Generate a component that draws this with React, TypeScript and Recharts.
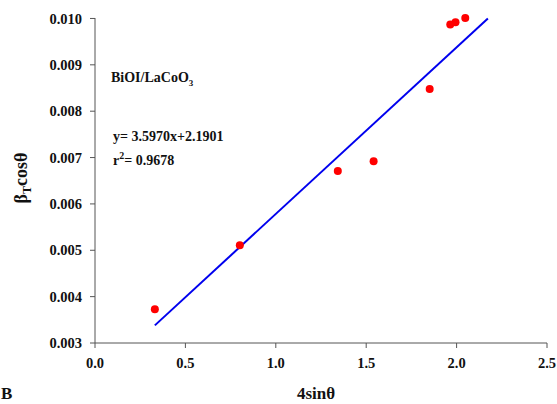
import React from "react"
import { ScatterChart, Scatter, XAxis, YAxis } from "recharts"

// measured points: 4sinθ vs βT·cosθ
const xValues = [0.331, 0.801, 1.343, 1.541, 1.851, 1.965, 1.994, 2.048]
const yValues = [0.00373, 0.00511, 0.00671, 0.00692, 0.00848, 0.00987, 0.00992, 0.01001]

// endpoints of the fitted line
const fitX = [0.331, 2.173]
const fitY = [0.00338, 0.01]

const xTicks = [0, 0.5, 1, 1.5, 2, 2.5]
const yTicks = [0.003, 0.004, 0.005, 0.006, 0.007, 0.008, 0.009, 0.01]

const points = xValues.map((x, i) => ({ x, y: yValues[i] }))
const fit = fitX.map((x, i) => ({ x, y: fitY[i] }))

const FONT = "'Liberation Serif', 'Times New Roman', serif"
const AXIS = "#555"

const tickStyle = { fill: "#111", fontSize: 14.5, fontWeight: 700, fontFamily: FONT }

export default function App() {
  return (
    <div style={{ position: "absolute", left: 0, top: 0, width: 557, height: 404 }}>
      <ScatterChart width={557} height={404} margin={{ top: 18, right: 10, left: 0, bottom: 0 }}>
        <XAxis
          type="number"
          dataKey="x"
          domain={[0, 2.5]}
          ticks={xTicks}
          tickFormatter={(v) => v.toFixed(1)}
          height={61}
          tick={tickStyle}
          tickSize={5}
          tickMargin={10}
          stroke={AXIS}
          label={{
            content: () => (
              <text x={316} y={399} textAnchor="middle" fontFamily={FONT} fontWeight={700} fontSize={17} fill="#111">
                4sinθ
              </text>
            ),
          }}
        />
        <YAxis
          type="number"
          dataKey="y"
          domain={[0.003, 0.01]}
          ticks={yTicks}
          tickFormatter={(v) => v.toFixed(3)}
          width={95}
          tick={tickStyle}
          tickSize={5}
          tickMargin={8}
          stroke={AXIS}
          label={{
            content: () => (
              <text
                x={27}
                y={178}
                transform="rotate(-90 27 178)"
                textAnchor="middle"
                fontFamily={FONT}
                fontWeight={700}
                fontSize={18}
                fill="#111"
              >
                β<tspan fontSize={12} dy={4}>T</tspan>
                <tspan dy={-4}>cosθ</tspan>
              </text>
            ),
          }}
        />
        <Scatter
          data={fit}
          line={{ stroke: "#0000ee", strokeWidth: 2 }}
          shape={() => <g />}
          isAnimationActive={false}
        />
        <Scatter data={points} fill="#ff0000" shape={(p: any) => <circle cx={p.cx} cy={p.cy} r={4} fill="#ff0000" />} isAnimationActive={false} />
        <g fontFamily={FONT} fontWeight={700} fill="#111">
          <text x={111} y={82} fontSize={14}>
            BiOI/LaCoO<tspan fontSize={9} dy={4}>3</tspan>
          </text>
          <text x={113} y={141} fontSize={14}>
            y= 3.5970x+2.1901
          </text>
          <text x={113} y={165} fontSize={14}>
            r<tspan fontSize={10} dy={-6}>2</tspan>
            <tspan dy={6}>= 0.9678</tspan>
          </text>
          <text x={1} y={399} fontSize={17}>
            B
          </text>
        </g>
      </ScatterChart>
    </div>
  )
}
